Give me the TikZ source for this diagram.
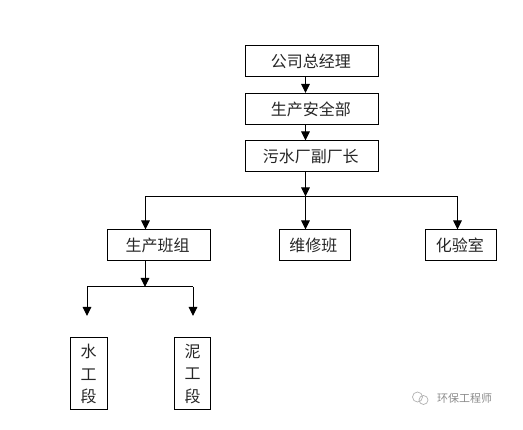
\documentclass[tikz,border=0pt]{standalone}
\usepackage{fontspec}
\setmainfont{Noto Sans CJK SC}
\usetikzlibrary{arrows.meta,calc}
\tikzset{
 box/.style={draw=black,line width=1pt,fill=white,minimum height=31pt,inner sep=0pt,font=\fontsize{16}{16}\selectfont,text=black!85,execute at begin node={\hspace*{-2.5pt}}},
 vbox/.style={draw=black,line width=1pt,fill=white,inner sep=0pt,minimum height=72pt,align=center,font=\fontsize{16}{22.5}\selectfont,text=black!85},
 conn/.style={line width=1pt,black},
 arr/.style={conn,-{Triangle[length=9pt,width=8.5pt]}},
 wm/.style={font=\fontsize{11}{11}\selectfont,text=black!45,inner sep=0pt},
}
\begin{document}
\begin{tikzpicture}[x=1pt,y=-1pt]
\useasboundingbox[fill=white] (0,0) rectangle (523,430);
\node[box,minimum width=133pt] (a) at (312,61.5) {公司总经理};
\node[box,minimum width=133pt] (b) at (312,109) {生产安全部};
\node[box,minimum width=133pt] (c) at (312,156.5) {污水厂副厂长};
\node[box,minimum width=103pt] (d) at (159,245.5) {生产班组};
\node[box,minimum width=71pt] (e) at (314.5,245.5) {维修班};
\node[box,minimum width=71pt] (f) at (461,245.5) {化验室};
\node[vbox,minimum width=37pt] (g) at (88.5,374) {水\\工\\段};
\node[vbox,minimum width=36pt] (h) at (192.5,374) {泥\\工\\段};
\coordinate (ca) at (305.5,0);
\coordinate (j1) at (305.5,196.5);
\coordinate (j1l) at (145.5,196.5);
\coordinate (j1r) at (457.5,196.5);
\coordinate (j2) at (145,287);
\coordinate (gt) at (87,316);
\coordinate (ht) at (193,316);
\draw[arr] (ca |- a.south) -- (ca |- b.north);
\draw[arr] (ca |- b.south) -- (ca |- c.north);
\draw[arr] (ca |- c.south) -- (j1);
\draw[conn] (j1l) -- (j1r);
\draw[arr] (j1l) -- (j1l |- d.north);
\draw[arr] (j1) -- (j1 |- e.north);
\draw[arr] (j1r) -- (j1r |- f.north);
\draw[arr] (j2 |- d.south) -- (j2);
\draw[conn] (gt |- j2) -- (ht |- j2);
\draw[arr] (gt |- j2) -- (gt);
\draw[arr] (ht |- j2) -- (ht);
\node[wm,anchor=west] (w) at (437,398) {环保工程师};
\draw[black!30,line width=.7pt] (417.5,397) circle (5pt) (423.5,400) circle (4.5pt);
\end{tikzpicture}
\end{document}
